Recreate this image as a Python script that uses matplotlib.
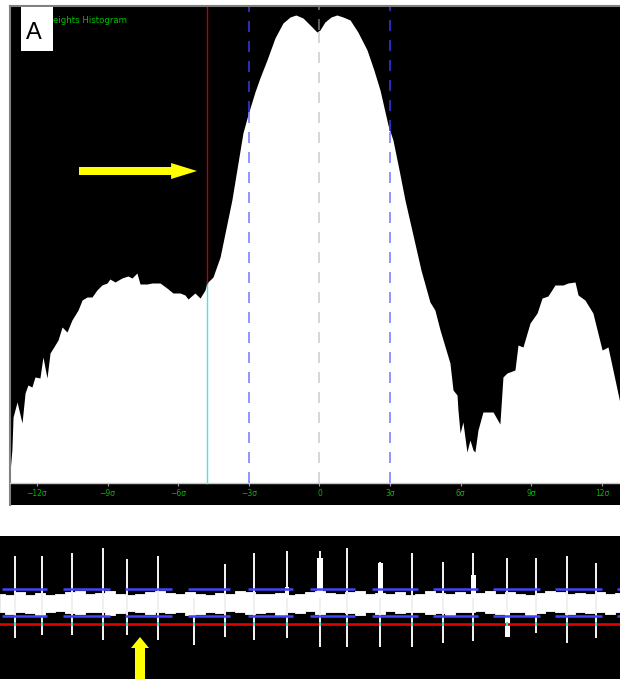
import numpy as np
import matplotlib
matplotlib.use("Agg")
import matplotlib.pyplot as plt
from matplotlib.patches import Rectangle, FancyArrow

# --- weights histogram (x in sigma, counts in arbitrary units) ---
hist_sigma = [-13.14, -13.06, -13.01, -12.84, -12.63, -12.50, -12.38, -12.21, -12.08, -11.87,
              -11.74, -11.57, -11.44, -11.23, -11.10, -10.93, -10.72, -10.51, -10.25, -10.08,
              -9.87, -9.66, -9.45, -9.24, -9.02, -8.90, -8.68, -8.39, -8.13, -7.96,
              -7.75, -7.62, -7.32, -7.11, -6.90, -6.77, -6.48, -6.22, -5.92, -5.71,
              -5.58, -5.29, -5.07, -4.86, -4.78, -4.52, -4.31, -4.22, -3.72, -3.25,
              -3.04, -2.74, -2.53, -2.23, -1.89, -1.55, -1.25, -1.00, -0.70, -0.40,
              -0.11, 0.02, 0.23, 0.49, 0.74, 1.00, 1.30, 1.63, 2.02, 2.31,
              2.57, 2.91, 3.12, 3.38, 3.63, 3.97, 4.31, 4.69, 4.90, 5.12,
              5.54, 5.67, 5.84, 5.88, 5.97, 6.09, 6.26, 6.39, 6.52, 6.60,
              6.73, 6.94, 7.37, 7.66, 7.79, 7.96, 8.30, 8.43, 8.64, 8.94,
              9.24, 9.45, 9.70, 10.00, 10.34, 10.55, 10.85, 10.98, 11.27, 11.61,
              12.00, 12.25, 12.46, 12.76]
hist_counts = [11, 33, 66, 81, 60, 90, 98, 96, 106, 105,
               126, 105, 130, 138, 143, 156, 151, 163, 173, 183,
               186, 186, 193, 198, 200, 204, 201, 205, 207, 205,
               210, 199, 199, 200, 200, 200, 195, 190, 190, 188,
               184, 190, 185, 193, 200, 206, 220, 226, 283, 350,
               368, 391, 405, 423, 445, 460, 466, 468, 465, 458,
               451, 453, 461, 466, 468, 466, 463, 451, 433, 413,
               393, 358, 343, 313, 283, 248, 213, 181, 173, 153,
               120, 93, 88, 73, 50, 61, 31, 43, 33, 31,
               53, 71, 71, 59, 106, 110, 113, 138, 136, 160,
               170, 185, 187, 198, 198, 200, 201, 188, 183, 170,
               133, 136, 113, 80]
tick_sigma = [-12, -9, -6, -3, 0, 3, 6, 9, 12]
tick_labels = ["\u221212\u03c3", "\u22129\u03c3", "\u22126\u03c3", "\u22123\u03c3", "0",
               "3\u03c3", "6\u03c3", "9\u03c3", "12\u03c3"]
clip_sigma = -4.76
band_sigma = [-3, 3]

# --- weight trace (x in samples) ---
spike_x = [15, 42, 72, 103, 127, 158, 194, 225, 254, 287,
           320, 347, 380, 412, 443, 473, 507, 536, 567, 596]
spike_top = [47, 47, 50, 55, 44, 47, 5, 39, 50, 52,
             52, 55, 41, 50, 41, 50, 45, 45, 47, 40]
spike_bottom = [-35, -32, -32, -37, -32, -37, -42, -34, -37, -35,
                -44, -44, -44, -44, -40, -38, -34, -30, -40, -35]
burst_x = [287, 320, 380, 473, 507]
burst_top = [16, 45, 40, 28, -8]
burst_bottom = [5, 5, 5, 5, -34]
burst_w = [4, 6, 5, 5, 5]
band_hi = [9, 8, 11, 8, 10, 8, 9, 11, 12, 9,
           10, 12, 9, 8, 9, 11, 12, 10, 9, 11,
           9, 8, 10, 9, 12, 11, 9, 9, 10, 8,
           9, 11, 12, 10, 9, 11, 12, 9, 10, 9,
           11, 8, 9, 12, 10, 9, 11, 9, 10, 12,
           9, 11, 9, 8, 10, 12, 11, 9, 10, 9,
           11, 9, 10]
band_lo = [-9, -11, -9, -10, -12, -9, -8, -10, -11, -9,
           -9, -12, -10, -8, -9, -11, -9, -10, -9, -12,
           -11, -9, -10, -8, -9, -11, -10, -9, -12, -9,
           -10, -8, -11, -9, -9, -10, -12, -9, -11, -8,
           -10, -9, -9, -11, -10, -12, -9, -9, -8, -10,
           -11, -9, -9, -12, -10, -8, -9, -11, -9, -10,
           -9, -11, -9]
seg_start = [2, 63, 125, 188, 248, 310, 372, 433, 493, 555, 617]
seg_end = [47, 110, 172, 230, 293, 355, 418, 478, 540, 602, 620]
upper_level = 14
lower_level = -13
red_level = -21

W, H = 620, 679
fig = plt.figure(figsize=(W / 100, H / 100), dpi=100)
fig.patch.set_facecolor("white")

# ---------------- histogram panel ----------------
ax = fig.add_axes([10 / W, 1 - 505 / H, 610 / W, 499 / H])
ax.set_facecolor("black")
ax.set_xlim(-13.14, 12.76)
ax.set_ylim(-22, 477)
ax.fill_between(hist_sigma, 0, hist_counts, color="white", lw=0, zorder=1)


def split_vline(x, c_low, c_high, **kw):
    # line drawn in one colour over the black, another over the white fill
    h = np.interp(x, hist_sigma, hist_counts)
    ax.plot([x, x], [0, h], color=c_low, zorder=2, **kw)
    ax.plot([x, x], [h, 477], color=c_high, zorder=2, **kw)


split_vline(clip_sigma, "#40e8e8", "#c00000", lw=1)
for s in band_sigma:
    split_vline(s, "#8080ff", "#3535d8", lw=1.2, dashes=(6.6, 5.4))
split_vline(0, "#d0d0d0", "#707070", lw=1.2, dashes=(6.6, 5.4))

ax.add_patch(FancyArrow(-10.21, 312, 5.01, 0, width=8, head_width=16, head_length=1.1,
                        length_includes_head=True, color="#ffff00", lw=0, zorder=4))

ax.spines["right"].set_visible(False)
for side in ["top", "left"]:
    ax.spines[side].set_color("#808080")
    ax.spines[side].set_linewidth(1.5)
ax.spines["bottom"].set_position(("data", 0))
ax.spines["bottom"].set_color("#c8c8c8")
ax.spines["bottom"].set_linewidth(1)
ax.set_xticks(tick_sigma)
ax.set_xticklabels(tick_labels)
ax.tick_params(axis="x", colors="#a0a0a0", length=2.5, width=0.8, pad=2,
               labelsize=5.5, labelcolor="#00b800")
ax.set_yticks([])

ax.text(0.0566, 0.970, "Weights Histogram", transform=ax.transAxes, color="#00c000",
        fontsize=6.2, ha="left", va="center", zorder=4)
ax.add_patch(Rectangle((0.018, 0.910), 0.0525, 0.088, transform=ax.transAxes,
                       facecolor="white", edgecolor="none", zorder=5))
ax.text(0.039, 0.945, "A", transform=ax.transAxes, color="black", fontsize=17,
        family="Liberation Sans", ha="center", va="center", zorder=6)

# ---------------- trace panel ----------------
bx = fig.add_axes([0, 0, 1, 143 / H])
bx.set_facecolor("black")
bx.set_xlim(0, 620)
bx.set_ylim(-76, 67)
for side in bx.spines.values():
    side.set_visible(False)
bx.set_xticks([])
bx.set_yticks([])

x_band = np.arange(len(band_hi)) * 10
bx.fill_between(x_band, band_lo, band_hi, step="mid", color="white", lw=0.6,
                edgecolor="white", zorder=1)
bx.bar(spike_x, np.array(spike_top) - np.array(spike_bottom), bottom=spike_bottom,
       width=2, color="#f0f0f0", lw=0, zorder=2)
bx.bar(burst_x, np.array(burst_top) - np.array(burst_bottom), bottom=burst_bottom,
       width=burst_w, color="white", lw=0, zorder=2)
bx.hlines([upper_level] * len(seg_start), seg_start, seg_end, color="#4444ff", lw=1.8, zorder=3)
bx.hlines([lower_level] * len(seg_start), seg_start, seg_end, color="#4444ff", lw=1.8, zorder=3)
bx.axhline(red_level, color="#e00000", lw=1.9, zorder=3)
bx.bar(spike_x, 4, bottom=red_level - 2, width=2, color="#40e0e0", lw=0, zorder=4)

bx.add_patch(FancyArrow(140, -80, 0, 46, width=10, head_width=18, head_length=11,
                        length_includes_head=True, color="#ffff00", lw=0, zorder=5))

fig.savefig("out.png", dpi=100, facecolor="white")
